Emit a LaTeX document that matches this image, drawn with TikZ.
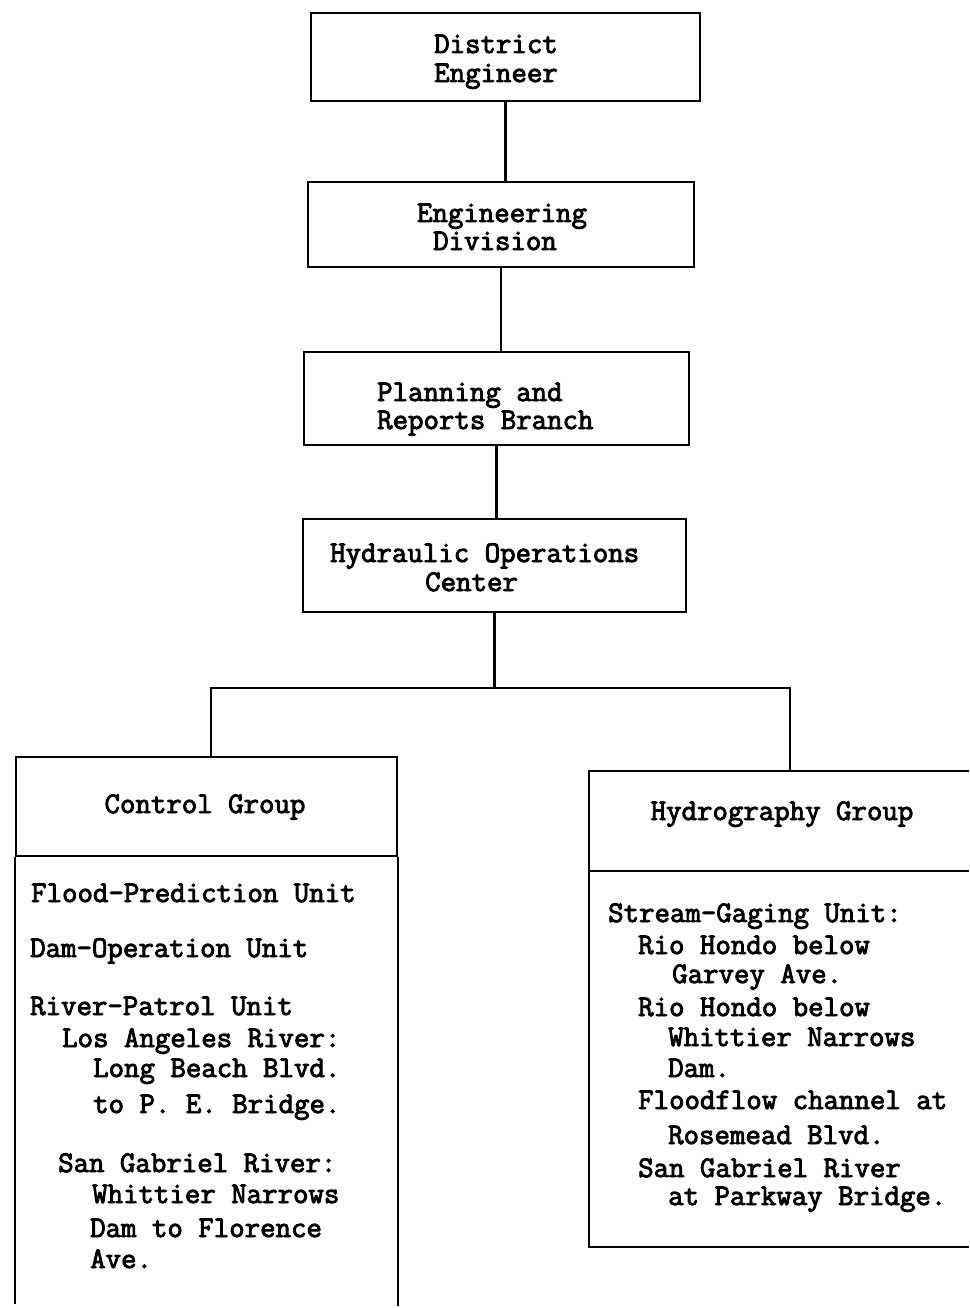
\documentclass[tikz,border=0pt]{standalone}
\usepackage{fontspec}
\newfontfamily\twfont{Latin Modern Mono}[FakeBold=3]
\tikzset{
  box/.style={draw, line width=2.4pt, rectangle, inner sep=0pt},
  conn/.style={line width=2.4pt},
  tw/.style={font=\twfont\fontsize{30}{24}\selectfont, inner sep=0pt, anchor=base west},
  twc/.style={font=\twfont\fontsize{30}{24}\selectfont, inner sep=0pt, anchor=base},
}
\begin{document}
\begin{tikzpicture}[x=1pt,y=-1pt]
\useasboundingbox (0,0) rectangle (969,1308);
\fill[white] (0,0) rectangle (969,1308);

% top boxes
\node[box, minimum width=389pt, minimum height=88pt] (de) at (505.5,57) {};
\node[box, minimum width=386pt, minimum height=85pt] (ed) at (501,224.5) {};
\node[box, minimum width=385pt, minimum height=93pt] (prb) at (496.5,398.5) {};
\node[box, minimum width=383pt, minimum height=93pt] (hoc) at (494.5,565.5) {};

\node[twc] (det1) at (496,53) {District};
\node[twc] (det2) at (496,82) {Engineer};
\node[twc] (edt1) at (502,222) {Engineering};
\node[twc] (edt2) at (495,250) {Division};
\node[tw] (prt1) at (377,401) {Planning and};
\node[tw] (prt2) at (377,429) {Reports Branch};
\node[tw] (hot1) at (330,562) {Hydraulic Operations};
\node[tw] (hot2) at (425,591) {Center};

\draw[conn] (de.south) -- (de.south |- ed.north);
\draw[conn] (ed.south) -- (ed.south |- prb.north);
\draw[conn] (prb.south) -- (prb.south |- hoc.north);

% group boxes
\coordinate (jl) at (211,688);
\coordinate (jr) at (790,688);

\node[box, minimum width=381pt, minimum height=99pt] (cg) at (206.5,806.5) {};
\draw[conn] (cg.south west) -- (cg.south west |- 0,1304);
\draw[conn] (cg.south east) -- (cg.south east |- 0,1306);
\node[twc] (cgt) at (205,813) {Control Group};

\node[inner sep=0pt, minimum width=402pt, minimum height=100pt] (hg) at (790,821) {};
\draw[conn] (969,771) -- (589,771) -- (589,1247) -- (969,1247);
\draw[conn] (589,871) -- (969,871);
\node[twc] (hgt) at (782,820) {Hydrography Group};

\draw[conn] (hoc.south) -- (hoc.south |- jl);
\draw[conn] (cg.north -| jl) -- (jl) -- (jr) -- (jr |- hg.north);

% Control Group list
\node[tw] (c1) at (31,902) {Flood-Prediction Unit};
\node[tw] (c2) at (30,957) {Dam-Operation Unit};
\node[tw] (c3) at (30,1015) {River-Patrol Unit};
\node[tw] (c4) at (62,1047) {Los Angeles River:};
\node[tw] (c5) at (93,1077) {Long Beach Blvd.};
\node[tw] (c6) at (93,1113) {to P. E. Bridge.};
\node[tw] (c7) at (58,1172) {San Gabriel River:};
\node[tw] (c8) at (92,1203) {Whittier Narrows};
\node[tw] (c9) at (90,1237) {Dam to Florence};
\node[tw] (c10) at (90,1268) {Ave.};

% Hydrography Group list
\node[tw] (h1) at (608,922) {Stream-Gaging Unit:};
\node[tw] (h2) at (638,954) {Rio Hondo below};
\node[tw] (h3) at (672,983) {Garvey Ave.};
\node[tw] (h4) at (638,1016) {Rio Hondo below};
\node[tw] (h5) at (668,1046) {Whittier Narrows};
\node[tw] (h6) at (668,1077) {Dam.};
\node[tw] (h7) at (638,1109) {Floodflow channel at};
\node[tw] (h8) at (668,1144) {Rosemead Blvd.};
\node[tw] (h9) at (638,1177) {San Gabriel River};
\node[tw] (h10) at (668,1205) {at Parkway Bridge.};
\end{tikzpicture}
\end{document}
